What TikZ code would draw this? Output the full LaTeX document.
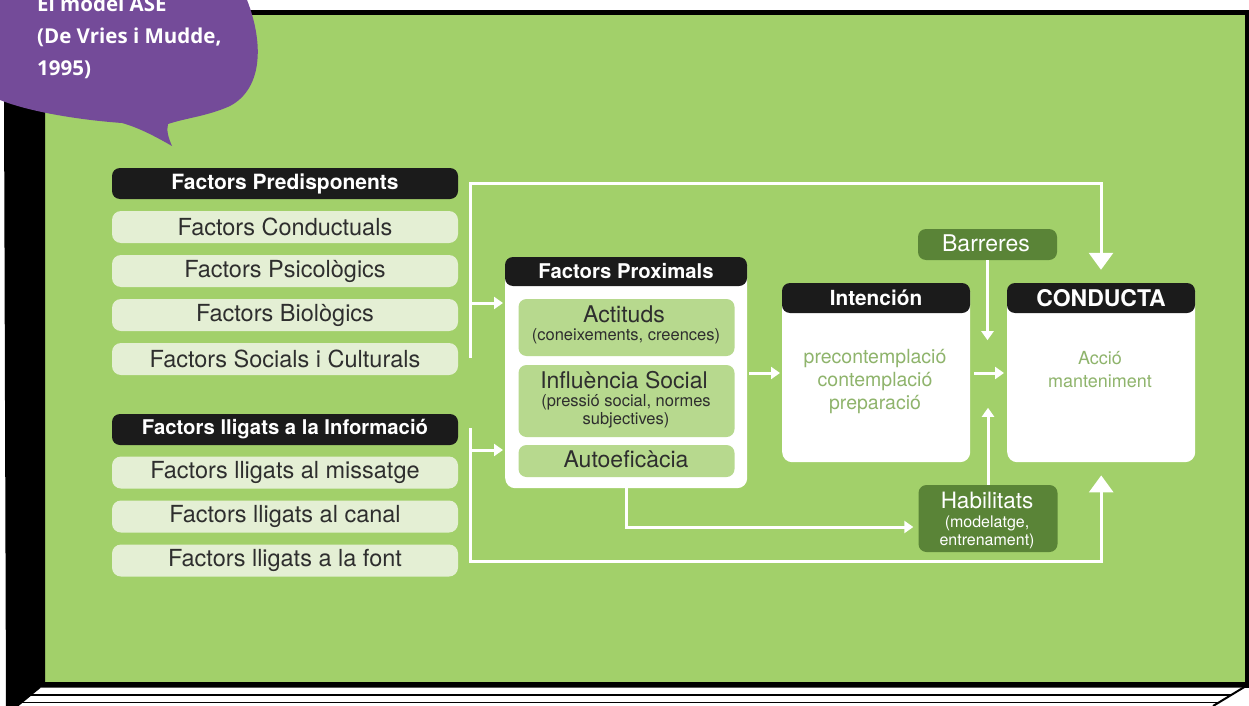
\documentclass[tikz,border=0pt]{standalone}
\usepackage{fontspec}
\setmainfont{TeX Gyre Heros}
\newfontfamily\bubblefont{Open Sans}
\usetikzlibrary{arrows.meta}
\definecolor{bg}{HTML}{A2D06A}
\definecolor{purp}{HTML}{744B99}
\definecolor{hdr}{HTML}{1B1B1B}
\definecolor{pale}{HTML}{E4EFD4}
\definecolor{innerg}{HTML}{B7D98E}
\definecolor{dkgreen}{HTML}{5A8437}
\definecolor{txtgray}{HTML}{2E2E2E}
\definecolor{soft}{HTML}{8FB46C}
\tikzset{
  hdrbox/.style={fill=hdr, rounded corners=8pt, text=white, font=\bfseries\fontsize{21}{24}\selectfont, inner sep=0pt, minimum height=31pt},
  palebox/.style={fill=pale, rounded corners=9pt, text=txtgray, font=\fontsize{23.5}{26}\selectfont, inner sep=0pt, minimum width=346pt, minimum height=32pt},
  innerbox/.style={fill=innerg, rounded corners=8pt, inner sep=0pt, minimum width=216pt},
  greenbox/.style={fill=dkgreen, rounded corners=8pt, inner sep=0pt, minimum width=139pt},
  whitebox/.style={fill=white, rounded corners=10pt, inner sep=0pt},
  bigtxt/.style={inner sep=0pt, text=txtgray, font=\fontsize{23}{26}\selectfont},
  smalltxt/.style={inner sep=0pt, text=txtgray, font=\fontsize{16.5}{19}\selectfont},
  softtxt/.style={inner sep=0pt, text=soft, font=\fontsize{19.5}{22}\selectfont},
  wline/.style={draw=white, line width=3pt},
  warrow/.style={wline, -{Triangle[width=12pt,length=9pt]}},
  bigarrow/.style={wline, -{Triangle[width=24pt,length=17pt]}},
  bubtext/.style={anchor=base west, text=white, font=\bubblefont\bfseries\fontsize{20.5}{24}\selectfont, inner sep=0pt}
}
\begin{document}
\begin{tikzpicture}[x=1pt,y=-1pt]
\useasboundingbox (0,0) rectangle (1249,706);
\fill[white] (0,0) rectangle (1249,706);
% frame
\fill[bg] (45,15) rectangle (1245,683);
\fill[black] (245,10) rectangle (1249,15.5);
\fill[black] (1245,10) rectangle (1248.5,687);
\fill[black] (4,95) -- (45,95) -- (45,687) -- (40,687) -- (17,706) -- (6,706) -- cycle;
\fill[black] (40,682) rectangle (1248.5,687.5);
\fill[white] (40,687.5) -- (1245,687.5) -- (1213,706) -- (17,706) -- cycle;
\draw[black, line width=1.6pt] (30.3,695) -- (1231.5,695);
\draw[black, line width=1.6pt] (21.2,702.5) -- (1219,702.5);
\draw[black, line width=2pt] (40,687) -- (17,706);
\draw[black, line width=2pt] (1246,686) -- (1213,706);

% speech bubble
\fill[purp] (-5,-5) -- (245,-5) .. controls (264,40) and (264,88) .. (230,106)
  .. controls (208,116) and (186,118) .. (168,124)
  .. controls (166,131) and (169,139) .. (172,146)
  .. controls (158,138) and (140,128) .. (122,123)
  .. controls (80,120) and (30,112) .. (0,100) -- (-5,100) -- cycle;
\node[bubtext] (b1) at (37,12) {El model ASE};
\node[bubtext] (b2) at (37,44) {(De Vries i Mudde,};
\node[bubtext] (b3) at (37,76) {1995)};

% left column
\node[hdrbox, minimum width=346pt] (pred) at (285,183.5) {Factors Predisponents};
\node[palebox] (cond) at (285,227) {Factors Conductuals};
\node[palebox] (psic) at (285,271) {Factors Psicològics};
\node[palebox] (biol) at (285,315) {Factors Biològics};
\node[palebox] (soc) at (285,359) {Factors Socials i Culturals};
\node[hdrbox, minimum width=346pt, font=\bfseries\fontsize{20.3}{24}\selectfont] (info) at (285,429.5) {Factors lligats a la Informació};
\node[palebox] (miss) at (285,472.5) {Factors lligats al missatge};
\node[palebox] (can) at (285,516.5) {Factors lligats al canal};
\node[palebox] (font) at (285,560.5) {Factors lligats a la font};

% factors proximals
\node[whitebox, minimum width=242pt, minimum height=231pt, anchor=north west] (prox) at (505,257) {};
\node[hdrbox, minimum width=242pt, minimum height=29pt, font=\bfseries\fontsize{20.3}{24}\selectfont] (proxh) at (626,271.5) {Factors Proximals};
\node[innerbox, minimum height=57pt] (act) at (626.5,327.5) {};
\node[bigtxt] (act1) at (624,314) {Actituds};
\node[smalltxt] (act2) at (626,336) {(coneixements, creences)};
\node[innerbox, minimum height=72pt] (inf) at (626.5,401) {};
\node[bigtxt] (inf1) at (624,380) {Influència Social};
\node[smalltxt] (inf2) at (626,402) {(pressió social, normes};
\node[smalltxt] (inf3) at (626,420) {subjectives)};
\node[innerbox, minimum height=32pt] (auto) at (626.5,461) {};
\node[bigtxt] (auto1) at (626,459) {Autoeficàcia};

% intencion / conducta
\node[whitebox, minimum width=188pt, minimum height=179pt, anchor=north west] (int) at (782,283) {};
\node[hdrbox, minimum width=188pt, minimum height=30pt, font=\bfseries\fontsize{20.8}{24}\selectfont] (inth) at (876,298) {Intención};
\node[softtxt] (int1) at (875,359) {precontemplació};
\node[softtxt] (int2) at (875,382) {contemplació};
\node[softtxt] (int3) at (875,405) {preparació};
\node[whitebox, minimum width=188pt, minimum height=179pt, anchor=north west] (con) at (1007,283) {};
\node[hdrbox, minimum width=188pt, minimum height=30pt, font=\bfseries\fontsize{23}{26}\selectfont] (conh) at (1101,298) {CONDUCTA};
\node[softtxt, font=\fontsize{18}{22}\selectfont] (con1) at (1100,358) {Acció};
\node[softtxt, font=\fontsize{18}{22}\selectfont] (con2) at (1100,381) {manteniment};

\node[greenbox, minimum height=31pt] (bar) at (987.5,244.5) {};
\node[bigtxt, text=white] (bar1) at (986,243) {Barreres};
\node[greenbox, minimum height=67pt] (hab) at (988,518.5) {};
\node[bigtxt, text=white, font=\fontsize{22.5}{26}\selectfont] (hab1) at (987,500) {Habilitats};
\node[smalltxt, text=white, font=\fontsize{16}{19}\selectfont] (hab2) at (987,523) {(modelatge,};
\node[smalltxt, text=white, font=\fontsize{16}{19}\selectfont] (hab3) at (987,541) {entrenament)};

% connectors
\coordinate (bt) at (470,183);
\coordinate (bb) at (470,358);
\coordinate (pa) at (470,303);
\coordinate (it) at (470,428);
\coordinate (ib) at (470,561);
\coordinate (ia) at (470,450);
\coordinate (m1) at (749,373);
\coordinate (m2) at (974,373);
\draw[bigarrow, shorten >=13pt] (bb) -- (bt) -- (bt -| conh.north) -- (conh.north);
\draw[warrow, shorten >=2pt] (pa) -- (pa -| prox.west);
\draw[bigarrow, shorten >=13pt] (it) -- (ib) -- (ib -| con.south) -- (con.south);
\draw[warrow, shorten >=2pt] (ia) -- (ia -| prox.west);
\draw[warrow, shorten >=2pt] (m1) -- (m1 -| int.west);
\draw[warrow, shorten >=3pt] (m2) -- (m2 -| con.west);
\draw[warrow] (bar.south) -- ++(0,80);
\draw[warrow] (hab.north) -- ++(0,-77);
\draw[warrow, shorten >=5pt] (prox.south) |- ([yshift=-8.5pt]hab.west);
\end{tikzpicture}
\end{document}
